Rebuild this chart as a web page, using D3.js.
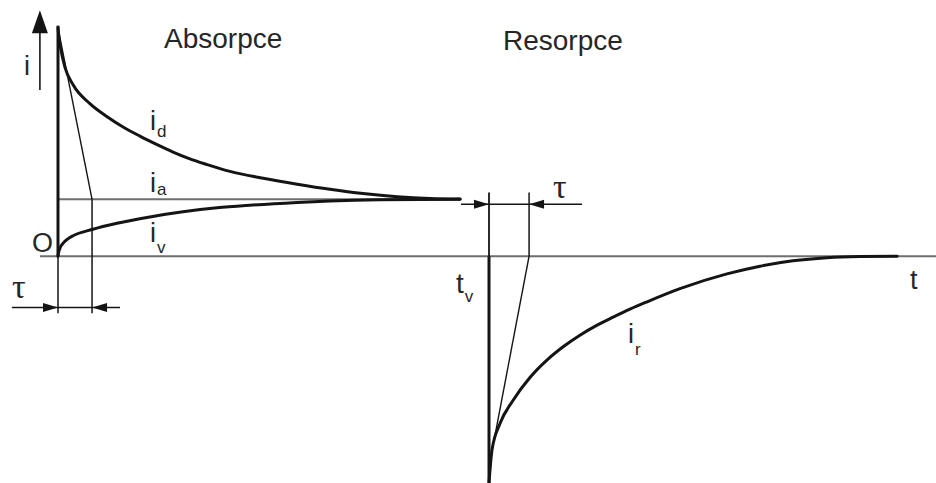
<!DOCTYPE html>
<html>
<head>
<meta charset="utf-8">
<script src="https://cdn.jsdelivr.net/npm/d3@7"></script>
<style>
  html, body { margin: 0; padding: 0; background: #fff; }
  svg { display: block; }
</style>
</head>
<body>
<svg id="chart" width="936" height="483"></svg>
<script>
// Time in arbitrary units: 0 = voltage switched on, 10 = switched off (t_v)
const tOn = 0;
const tOff = 10;
const tEnd = 20.4;
const tauAbs = 0.79;   // time constant read on the charging side
const tauRes = 0.93;   // time constant read on the discharging side
const iAbs = 1;        // steady conduction current i_a

// Charging current i_d (absorption)
const idT = [0, 0.02, 0.06, 0.16, 0.35, 0.74, 1.14, 1.51, 1.90, 2.30, 2.67, 3.06, 3.46, 3.99, 4.76, 5.55, 6.31, 7.08, 7.87, 8.63, 9.33];
const idI = [4.01, 3.86, 3.66, 3.32, 3.01, 2.68, 2.45, 2.27, 2.11, 1.96, 1.83, 1.71, 1.61, 1.49, 1.37, 1.265, 1.175, 1.10, 1.045, 1.015, 1.005];

// Voltage-side current i_v
const ivT = [0, 0.015, 0.05, 0.12, 0.22, 0.35, 0.79, 1.37, 2.13, 2.90, 3.69, 4.45, 5.55, 6.31, 7.47, 9.33];
const ivI = [0, 0.07, 0.15, 0.23, 0.30, 0.36, 0.47, 0.58, 0.69, 0.78, 0.85, 0.895, 0.945, 0.972, 0.993, 1.0];

// Discharging current i_r (resorption)
const irT = [10, 10.07, 10.26, 10.56, 10.95, 11.35, 11.72, 12.11, 12.51, 12.88, 13.27, 13.67, 14.43, 15.52, 16.29, 17.05, 17.84, 18.61, 19.47];
const irI = [-3.98, -3.40, -2.93, -2.53, -2.13, -1.82, -1.59, -1.387, -1.21, -1.07, -0.93, -0.80, -0.57, -0.31, -0.175, -0.08, -0.025, -0.005, 0];

// Tangent end points
const tanAbs = [[0, 4.01], [tauAbs, iAbs]];
const tanRes = [[tOff, -3.7], [tOff + tauRes, 0]];

const sectionTitles = ["Absorpce", "Resorpce"];

const svg = d3.select("#chart");
const x = d3.scaleLinear().domain([0, 10]).range([58, 489]);
const y = d3.scaleLinear().domain([-4, 4.5]).range([484, 0]);

const INK = "#141414";
const TXT = "#262626";

function seg(t1, i1, t2, i2, w, col) {
  svg.append("line")
    .attr("x1", x(t1)).attr("y1", y(i1))
    .attr("x2", x(t2)).attr("y2", y(i2))
    .attr("stroke", col).attr("stroke-width", w);
}

// filled arrow head, dir = +1 points right, -1 left, "up" points up
function head(px, py, dir) {
  let pts;
  if (dir === "up") pts = [[px, py], [px - 8, py + 23], [px + 8, py + 23]];
  else pts = [[px, py], [px - dir * 15, py - 4.5], [px - dir * 15, py + 4.5]];
  svg.append("polygon").attr("points", pts.map(p => p.join(",")).join(" ")).attr("fill", INK);
}

// zero line and steady-state level
seg(-0.42, 0, tEnd, 0, 2, "#6e6e6e");
seg(0, iAbs, idT[idT.length - 1], iAbs, 2, "#6e6e6e");

// current axis arrow
seg(-0.42, 2.92, -0.42, 3.92, 1.6, INK);
head(x(-0.42), y(4.32), "up");

// tau on absorption side
seg(0, 0, 0, -1.0, 1.5, INK);
seg(tauAbs, iAbs, tauAbs, -1.0, 1.5, INK);
seg(-1.07, -0.9, 1.44, -0.9, 1.5, INK);
head(x(0), y(-0.9), 1);
head(x(tauAbs), y(-0.9), -1);
seg(tanAbs[0][0], tanAbs[0][1], tanAbs[1][0], tanAbs[1][1], 1.4, INK);

// tau on resorption side
seg(tOff, 1.12, tOff, 0, 1.8, INK);
seg(tOff + tauRes, 1.12, tOff + tauRes, 0, 1.5, INK);
seg(9.35, 0.915, 12.16, 0.915, 1.5, INK);
head(x(tOff), y(0.915), 1);
head(x(tOff + tauRes), y(0.915), -1);
seg(tanRes[0][0], tanRes[0][1], tanRes[1][0], tanRes[1][1], 1.4, INK);

// thick axes
seg(0, 4.05, 0, 0, 3, INK);
seg(tOff, 0, tOff, -4.1, 3, INK);

// current curves
const line = d3.line().x(d => x(d[0])).y(d => y(d[1])).curve(d3.curveMonotoneX);
const curves = [
  d3.zip(idT, idI),
  d3.zip(ivT, ivI),
  d3.zip(irT, irI)
];
svg.selectAll("path.curve").data(curves).join("path")
  .attr("class", "curve")
  .attr("d", line)
  .attr("fill", "none")
  .attr("stroke", INK)
  .attr("stroke-width", 3)
  .attr("stroke-linecap", "round");

// labels
const sans = "'Liberation Sans', Arial, sans-serif";
const serif = "'Liberation Serif', 'Times New Roman', serif";
function label(px, py, main, sub, subDy, size) {
  const t = svg.append("text").attr("x", px).attr("y", py)
    .attr("font-family", sans).attr("font-size", size || 27).attr("fill", TXT);
  t.append("tspan").text(main);
  if (sub) t.append("tspan").attr("font-size", 17).attr("dx", 1).attr("dy", subDy).text(sub);
}

svg.append("text").attr("x", 164).attr("y", 48).attr("font-family", sans)
  .attr("font-size", 28).attr("fill", TXT).text(sectionTitles[0]);
svg.append("text").attr("x", 503).attr("y", 50).attr("font-family", sans)
  .attr("font-size", 28).attr("fill", TXT).text(sectionTitles[1]);

label(24, 75, "i");
label(32, 252, "O");
label(150, 130, "i", "d", 7);
label(150, 192, "i", "a", 3);
label(150, 242, "i", "v", 11);
label(628, 343, "i", "r", 12);
label(456, 293, "t", "v", 9, 28);
label(910, 289, "t");

svg.append("text").attr("x", 12).attr("y", 298).attr("font-family", serif)
  .attr("font-size", 34).attr("fill", TXT).text("τ");
svg.append("text").attr("x", 553).attr("y", 198).attr("font-family", serif)
  .attr("font-size", 34).attr("fill", TXT).text("τ");
</script>
</body>
</html>
